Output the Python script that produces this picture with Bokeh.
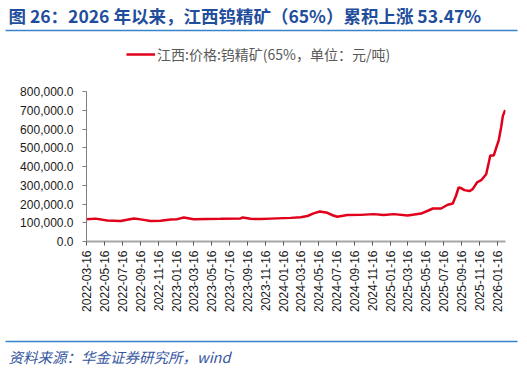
import pandas as pd
from bokeh.plotting import figure
from bokeh.layouts import column
from bokeh.models import Range1d, FixedTicker, DatetimeTickFormatter, NumeralTickFormatter
from bokeh.core.properties import value
from bokeh.embed import file_html
from bokeh.resources import INLINE

TITLE = "图 26：2026 年以来，江西钨精矿（65%）累积上涨 53.47%"
SOURCE = "资料来源：华金证券研究所，wind"
SERIES_NAME = "江西:价格:钨精矿(65%，单位：元/吨)"

dates = [
    "2022-03-16", "2022-04-16", "2022-05-26", "2022-07-10", "2022-08-25",
    "2022-09-16", "2022-10-21", "2022-11-24", "2022-12-28", "2023-01-17",
    "2023-02-11", "2023-03-17", "2023-05-02", "2023-06-17", "2023-08-24",
    "2023-08-31", "2023-09-27", "2023-10-31", "2023-12-04", "2024-02-11",
    "2024-03-16", "2024-04-08", "2024-04-29", "2024-05-20", "2024-06-15",
    "2024-07-03", "2024-07-19", "2024-08-22", "2024-10-07", "2024-11-20",
    "2024-12-24", "2025-01-28", "2025-03-16", "2025-05-01", "2025-05-24",
    "2025-06-10", "2025-07-08", "2025-07-31", "2025-08-17", "2025-08-28",
    "2025-09-06", "2025-09-14", "2025-09-26", "2025-10-13", "2025-10-24",
    "2025-11-08", "2025-11-22", "2025-12-09", "2025-12-18", "2025-12-23",
    "2026-01-04", "2026-01-12", "2026-01-21", "2026-01-29", "2026-02-04",
    "2026-02-12",
]
prices = [
    119000, 122000, 112000, 109000, 123000,
    118000, 109000, 111000, 117000, 118000,
    128000, 119000, 120000, 121000, 123000,
    128000, 121000, 120000, 122000, 126000,
    129000, 136000, 150000, 160000, 153000,
    140000, 132000, 141000, 142000, 146000,
    141000, 146000, 139000, 149000, 164000,
    176000, 176000, 196000, 203000, 244000,
    288000, 285000, 274000, 269000, 279000,
    315000, 327000, 359000, 421000, 459000,
    459000, 498000, 541000, 608000, 670000,
    701000,
]
tick_dates = [
    "2022-03-16", "2022-05-16", "2022-07-16", "2022-09-16", "2022-11-16",
    "2023-01-16", "2023-03-16", "2023-05-16", "2023-07-16", "2023-09-16",
    "2023-11-16", "2024-01-16", "2024-03-16", "2024-05-16", "2024-07-16",
    "2024-09-16", "2024-11-16", "2025-01-16", "2025-03-16", "2025-05-16",
    "2025-07-16", "2025-09-16", "2025-11-16", "2026-01-16",
]
y_ticks = [0, 100000, 200000, 300000, 400000, 500000, 600000, 700000, 800000]
Y_AXIS_MAX = 800000

CJK = "Noto Sans CJK SC"
W = 527
RULE = "#3B82CC"


def clear_fills(fig):
    fig.outline_line_color = None
    fig.border_fill_alpha = 0
    fig.background_fill_alpha = 0
    fig.grid.visible = False


# ---------- header ----------
head = figure(width=W, height=36, output_backend="svg", toolbar_location=None,
              x_range=Range1d(0, W), y_range=Range1d(0, 36),
              x_axis_type=None, y_axis_type=None, min_border=0, frame_align=False)
clear_fills(head)
head.quad(left=[5], right=[517], bottom=[5.2], top=[6.8], fill_color=RULE, line_color=None)
head.text(x=[8], y=[21], text=[TITLE], text_font=value(CJK), text_font_size="17.5px",
          text_font_style="bold", text_color="#1F4E9C", text_baseline="middle", text_align="left")

# ---------- main chart ----------
x = pd.to_datetime(dates)
ticks_ms = [pd.Timestamp(d).value // 10**6 for d in tick_dates]

MAIN_H, TOP_B, BOT_B = 300, 8, 95
frame_h = MAIN_H - TOP_B - BOT_B          # 197 px
y_top = Y_AXIS_MAX * frame_h / 150.0      # 800k sits 150 px above the x axis

p = figure(width=W, height=MAIN_H, output_backend="svg", toolbar_location=None,
           x_axis_type="datetime",
           x_range=Range1d(pd.Timestamp("2022-03-16"), pd.Timestamp("2026-02-13")),
           y_range=Range1d(0, y_top),
           min_border_left=86, min_border_right=22, min_border_top=TOP_B, min_border_bottom=BOT_B,
           frame_align=False)
clear_fills(p)

p.line(x, prices, line_color="#E1001B", line_width=2.5, legend_label=SERIES_NAME)

p.xaxis.ticker = FixedTicker(ticks=ticks_ms)
p.xaxis.formatter = DatetimeTickFormatter(
    days="%Y-%m-%d", months="%Y-%m-%d", years="%Y-%m-%d", hours="%Y-%m-%d",
    minutes="%Y-%m-%d", seconds="%Y-%m-%d", milliseconds="%Y-%m-%d",
    microseconds="%Y-%m-%d", minsec="%Y-%m-%d", hourmin="%Y-%m-%d")
p.xaxis.major_label_orientation = 1.5708
p.xaxis.axis_line_color = "#A6A6A6"
p.xaxis.axis_line_width = 2
p.xaxis.major_tick_line_color = "#595959"
p.xaxis.major_tick_out = 4
p.xaxis.major_tick_in = 0
p.xaxis.minor_tick_line_color = None
p.xaxis.major_label_standoff = 5

p.yaxis.ticker = FixedTicker(ticks=y_ticks)
p.yaxis.bounds = (0, Y_AXIS_MAX)
p.yaxis.formatter = NumeralTickFormatter(format="0,0.0")
p.yaxis.axis_line_color = "#7F7F7F"
p.yaxis.major_tick_line_color = "#7F7F7F"
p.yaxis.major_tick_out = 4
p.yaxis.major_tick_in = 0
p.yaxis.minor_tick_line_color = None
p.yaxis.major_label_standoff = 9

for ax in (p.xaxis, p.yaxis):
    ax.major_label_text_font = "Liberation Sans"
    ax.major_label_text_font_size = "12px"
    ax.major_label_text_color = "#1A1A1A"

lg = p.legend[0]
lg.location = (40, 177)
lg.orientation = "horizontal"
lg.border_line_color = None
lg.background_fill_alpha = 0
lg.padding = 0
lg.margin = 0
lg.spacing = 0
lg.glyph_width = 29
lg.glyph_height = 16
lg.label_standoff = 2
lg.label_text_font = CJK
lg.label_text_font_size = "14px"
lg.label_text_color = "#595959"

# ---------- footer ----------
foot = figure(width=W, height=34, output_backend="svg", toolbar_location=None,
              x_range=Range1d(0, W), y_range=Range1d(0, 34),
              x_axis_type=None, y_axis_type=None, min_border=0, frame_align=False)
clear_fills(foot)
foot.quad(left=[5], right=[517], bottom=[28.2], top=[29.8], fill_color=RULE, line_color=None)
foot.text(x=[8], y=[14], text=[SOURCE], text_font=value(CJK), text_font_size="14.5px",
          text_font_style="italic", text_color="#3556A0", text_baseline="middle", text_align="left")

layout = column(head, p, foot, spacing=0)
open("out.html", "w").write(file_html(layout, INLINE))
